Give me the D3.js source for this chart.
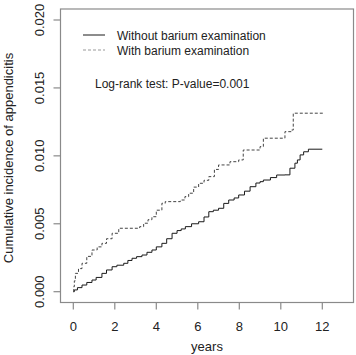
<!DOCTYPE html>
<html>
<head>
<meta charset="utf-8">
<script src="https://cdn.jsdelivr.net/npm/d3@7"></script>
<style>
  body { margin: 0; background: #fff; }
  svg { display: block; font-family: "Liberation Sans", Arial, sans-serif; }
</style>
</head>
<body>
<script>
// cumulative incidence curves (years, incidence)
var withoutTimes = [0, 0.05, 0.2, 0.42, 0.65, 0.9, 1.1, 1.38, 1.6, 1.87, 2.1, 2.43, 2.63, 2.83,
  3.05, 3.31, 3.55, 3.79, 4.0, 4.27, 4.5, 4.76, 5.0, 5.2, 5.4, 5.7, 6.04, 6.3, 6.53, 6.75, 7.0,
  7.25, 7.49, 7.75, 7.97, 8.25, 8.52, 8.8, 9.0, 9.16, 9.5, 9.8, 10.2, 10.44, 10.68, 10.8, 10.93,
  11.1, 11.33, 12.0];
var withoutValues = [0, 0.00013, 0.0003, 0.00049, 0.00068, 0.00086, 0.00105, 0.00135, 0.0016,
  0.00184, 0.00195, 0.00209, 0.0023, 0.00246, 0.00258, 0.0027, 0.0029, 0.00307, 0.0033, 0.00356,
  0.0039, 0.0043, 0.0045, 0.00462, 0.00479, 0.005, 0.00515, 0.0055, 0.00589, 0.006, 0.00614,
  0.0065, 0.00675, 0.0069, 0.00712, 0.0074, 0.00773, 0.008, 0.0081, 0.00822, 0.0084, 0.00859,
  0.0086, 0.00909, 0.00946, 0.0097, 0.01007, 0.0103, 0.01049, 0.01049];

var withTimes = [0, 0.02, 0.05, 0.1, 0.25, 0.42, 0.65, 0.9, 1.15, 1.38, 1.6, 1.87, 2.19, 3.2,
  3.39, 3.6, 3.79, 4.0, 4.27, 4.43, 5.16, 5.38, 5.56, 5.8, 6.04, 6.3, 6.53, 6.8, 7.0, 7.55,
  7.97, 8.19, 9.0, 9.16, 10.2, 10.52, 10.6, 12.05];
var withValues = [0, 0.00037, 0.0008, 0.00135, 0.0017, 0.00209, 0.0026, 0.00307, 0.0033,
  0.00356, 0.0039, 0.0043, 0.00467, 0.00479, 0.00504, 0.0053, 0.00552, 0.006, 0.00651, 0.00663,
  0.00675, 0.007, 0.00725, 0.0077, 0.00798, 0.0082, 0.00847, 0.009, 0.00933, 0.00957, 0.0097,
  0.01043, 0.01068, 0.0113, 0.01178, 0.0119, 0.01314, 0.01314];

var xTicks = [0, 2, 4, 6, 8, 10, 12];
var yTicks = [0, 0.005, 0.01, 0.015, 0.02];
var legendLabels = ["Without barium examination", "With barium examination"];
var testLabel = "Log-rank test: P-value=0.001";

var width = 356, height = 355;
var box = { left: 60.5, right: 353.5, top: 9, bottom: 302.5 };

var svg = d3.select("body").append("svg")
  .attr("width", width)
  .attr("height", height);

var x = d3.scaleLinear().domain([0, 12]).range([73.3, 322.3]);
var y = d3.scaleLinear().domain([0, 0.02]).range([291.7, 20]);

// frame
svg.append("rect")
  .attr("x", box.left).attr("y", box.top)
  .attr("width", box.right - box.left).attr("height", box.bottom - box.top)
  .attr("fill", "none").attr("stroke", "#8a8a8a").attr("stroke-width", 1.2);

// x axis ticks
var xAxis = svg.append("g");
xAxis.selectAll("line").data(xTicks).enter().append("line")
  .attr("x1", function (d) { return x(d); }).attr("x2", function (d) { return x(d); })
  .attr("y1", box.bottom).attr("y2", box.bottom + 7)
  .attr("stroke", "#8a8a8a").attr("stroke-width", 1.2);
xAxis.selectAll("text").data(xTicks).enter().append("text")
  .attr("x", function (d) { return x(d); })
  .attr("y", 330.5)
  .attr("text-anchor", "middle")
  .attr("font-size", 13).attr("fill", "#222")
  .text(function (d) { return d; });

// y axis ticks
var yAxis = svg.append("g");
yAxis.selectAll("line").data(yTicks).enter().append("line")
  .attr("y1", function (d) { return y(d); }).attr("y2", function (d) { return y(d); })
  .attr("x1", box.left).attr("x2", box.left - 7)
  .attr("stroke", "#8a8a8a").attr("stroke-width", 1.2);
yAxis.selectAll("text").data(yTicks).enter().append("text")
  .attr("transform", function (d) { return "translate(44," + y(d) + ") rotate(-90)"; })
  .attr("text-anchor", "middle")
  .attr("font-size", 13).attr("fill", "#222")
  .text(d3.format(".3f"));

// axis titles
svg.append("text")
  .attr("x", 207).attr("y", 351)
  .attr("text-anchor", "middle")
  .attr("font-size", 13).attr("fill", "#222")
  .text("years");
svg.append("text")
  .attr("transform", "translate(13,158) rotate(-90)")
  .attr("text-anchor", "middle")
  .attr("font-size", 13).attr("fill", "#222")
  .text("Cumulative incidence of appendicitis");

// curves
var line = d3.line()
  .x(function (d) { return x(d[0]); })
  .y(function (d) { return y(d[1]); })
  .curve(d3.curveStepAfter);

svg.append("path")
  .datum(d3.zip(withoutTimes, withoutValues))
  .attr("d", line)
  .attr("fill", "none").attr("stroke", "#1a1a1a").attr("stroke-width", 1);

svg.append("path")
  .datum(d3.zip(withTimes, withValues))
  .attr("d", line)
  .attr("fill", "none").attr("stroke", "#444").attr("stroke-width", 1)
  .attr("stroke-dasharray", "3,2");

// legend
var legend = svg.append("g");
legend.selectAll("line").data(legendLabels).enter().append("line")
  .attr("x1", 83).attr("x2", 105)
  .attr("y1", function (d, i) { return 35 + i * 15; })
  .attr("y2", function (d, i) { return 35 + i * 15; })
  .attr("stroke", function (d, i) { return i === 0 ? "#1a1a1a" : "#999"; })
  .attr("stroke-width", 1)
  .attr("stroke-dasharray", function (d, i) { return i === 0 ? null : "3,2"; });
legend.selectAll("text").data(legendLabels).enter().append("text")
  .attr("x", 117)
  .attr("y", function (d, i) { return 39.5 + i * 15; })
  .attr("font-size", 12).attr("fill", "#222")
  .text(function (d) { return d; });

svg.append("text")
  .attr("x", 95).attr("y", 87.5)
  .attr("font-size", 12).attr("fill", "#222")
  .text(testLabel);
</script>
</body>
</html>
